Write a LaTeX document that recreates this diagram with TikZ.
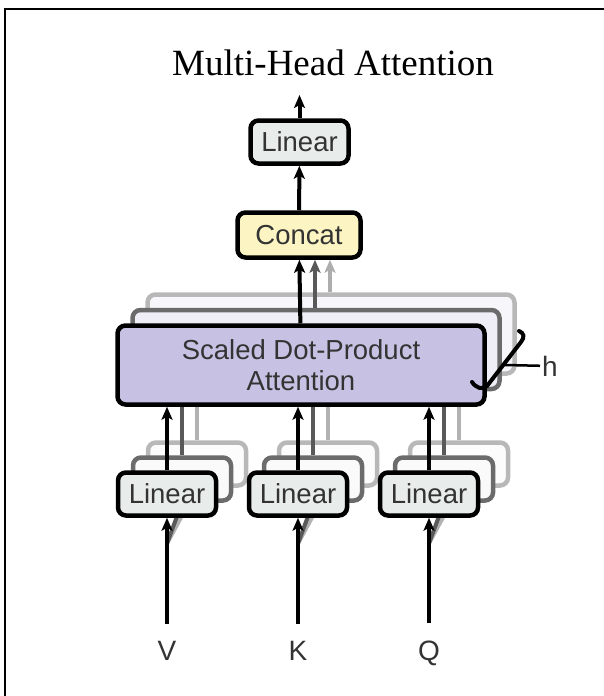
\documentclass[tikz,border=0pt]{standalone}
\usepackage{fontspec}
\setmainfont{Liberation Serif}
\newfontfamily\helv{Liberation Sans}
\usetikzlibrary{arrows.meta,positioning,calc}
\definecolor{linfill}{HTML}{E8EDEB}
\definecolor{catfill}{HTML}{FCF5C3}
\definecolor{attfill}{HTML}{C7C2E3}
\definecolor{txtgray}{HTML}{333333}
\tikzset{
	box/.style={draw, line width=4.5pt, rounded corners=8pt, inner sep=0pt,
		font=\helv\fontsize{27.5}{31}\selectfont, text=txtgray},
	lin box/.style={box, fill=linfill, minimum width=98pt, minimum height=43pt},
	cat box/.style={box, fill=catfill, minimum width=123pt, minimum height=45pt},
	att box/.style={box, fill=attfill, minimum width=367pt, minimum height=79pt, align=center},
	% the stacked copies behind
	back2/.style={draw=black!58, fill=white!72!#1},
	back3/.style={draw=black!28, fill=white!86!#1},
	ar/.style={line width=4pt, -{Stealth[length=13pt,width=11pt,inset=3pt]}},
	ar2/.style={ar, draw=black!65},
	ar3/.style={ar, draw=black!32},
	ln2/.style={line width=4pt, draw=black!65},
	ln3/.style={line width=4pt, draw=black!30},
	lbl/.style={font=\helv\fontsize{28}{32}\selectfont, text=txtgray, inner sep=2pt}
}
\begin{document}
\begin{tikzpicture}[x=1pt, y=-1pt]
	\useasboundingbox (0,0) rectangle (604,696);
	\draw[line width=1.5pt] (604,9) -- (5,9) -- (5,696);

	\node[anchor=base, font=\fontsize{37}{44}\selectfont] (title) at (333,75) {Multi-Head Attention};
	\coordinate (out) at (299.5,95);

	% attention, h copies
	\coordinate (att0) at (301,365);
	\node[att box, back3=attfill] (att3) at ($(att0)+(30,-31)$) {};
	\node[att box, back2=attfill] (att2) at ($(att0)+(15,-15.5)$) {};

	\node[lin box] (lin) at (299.5,142) {Linear};
	\node[cat box] (concat) at (299,235) {Concat};
	\draw[ar] (lin) -- (out);
	\draw[ar] (concat) -- (lin);
	\coordinate (cat2) at ($(concat.south)+(16,0)$);
	\coordinate (cat3) at ($(concat.south)+(31,0)$);
	\draw[ar3] (cat3 |- att3.north) -- (cat3);
	\draw[ar2] (cat2 |- att2.north) -- (cat2);

	\foreach \n/\cx in {V/167, K/298, Q/429} {
		\node[lbl, anchor=base] (\n) at (\cx,660) {\n};
		\coordinate (lin\n0) at (\cx,494);
		\node[lin box, back3=linfill] (lin\n3) at ($(lin\n0)+(30,-30)$) {};
		\draw[ln3] (lin\n3.north) -- (lin\n3.north |- att3.south);
		\draw[ln3] ($(\n.north)+(0,-95)$) -- (lin\n3.south);
		\node[lin box, back2=linfill] (lin\n2) at ($(lin\n0)+(15,-15)$) {};
		\draw[ln2] (lin\n2.north) -- (lin\n2.north |- att2.south);
		\draw[ln2] ($(\n.north)+(0,-95)$) -- (lin\n2.south);
		\node[lin box] (lin\n) at (lin\n0) {Linear};
		\draw[ar, shorten <=15pt] (\n) -- (lin\n);
	}

	\node[att box] (att) at (att0) {Scaled Dot-Product\\Attention};
	\foreach \n in {V,K,Q}
		\draw[ar] (lin\n) -- (lin\n |- att.south);
	\draw[ar] (att) -- (concat);

	% h bracket
	\draw[line width=4pt, line cap=round] (472,382) .. controls (476,388) and (482,390) .. (487,386)
		-- (521,342) .. controls (525,337) and (524,333) .. (519,331);
	\node[lbl, anchor=west] (h) at (540,366) {h};
	\draw[line width=2.5pt] (505,365) -- (h);
\end{tikzpicture}
\end{document}
